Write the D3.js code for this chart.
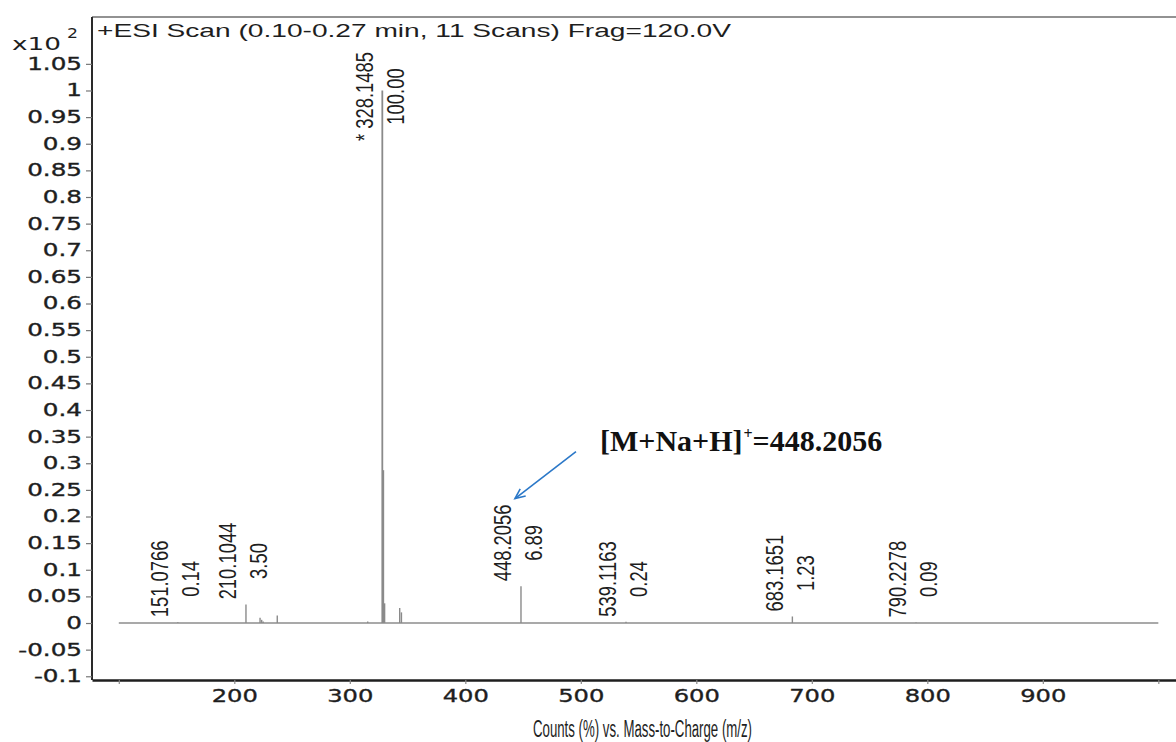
<!DOCTYPE html>
<html><head><meta charset="utf-8">
<script src="https://cdn.jsdelivr.net/npm/d3@7"></script>
<style>
html,body{margin:0;padding:0;background:#fff;}
svg{display:block;}
</style>
</head><body>
<svg id="chart" width="1176" height="742"></svg>
<script>
// Centroided peak list: m/z and relative abundance (%)
const peakMz  = [151.0766, 210.1044, 222.3, 223.7, 225.0, 237.2, 315.5, 328.1485, 329.15, 330.15, 343.2, 344.7, 448.2056, 539.1163, 683.1651, 790.2278];
const peakPct = [0.14, 3.50, 1.0, 0.6, 0.3, 1.4, 0.3, 100.00, 28.7, 3.7, 2.8, 2.0, 6.89, 0.24, 1.23, 0.09];

// Annotated peaks (m/z text, abundance text, marker prefix)
const labelMz     = ["151.0766", "210.1044", "328.1485", "448.2056", "539.1163", "683.1651", "790.2278"];
const labelPct    = ["0.14", "3.50", "100.00", "6.89", "0.24", "1.23", "0.09"];
const labelPrefix = ["", "", "* ", "", "", "", ""];

// Axis ticks
const xTicks      = [100, 200, 300, 400, 500, 600, 700, 800, 900, 1000];
const xTickLabels = ["", "200", "300", "400", "500", "600", "700", "800", "900", ""];
const yTicks      = [-0.1, -0.05, 0, 0.05, 0.1, 0.15, 0.2, 0.25, 0.3, 0.35, 0.4, 0.45, 0.5, 0.55, 0.6, 0.65, 0.7, 0.75, 0.8, 0.85, 0.9, 0.95, 1, 1.05];
const yTickLabels = ["-0.1", "-0.05", "0", "0.05", "0.1", "0.15", "0.2", "0.25", "0.3", "0.35", "0.4", "0.45", "0.5", "0.55", "0.6", "0.65", "0.7", "0.75", "0.8", "0.85", "0.9", "0.95", "1", "1.05"];

const titleText = "+ESI Scan (0.10-0.27 min, 11 Scans) Frag=120.0V";
const xAxisTitle = "Counts (%) vs. Mass-to-Charge (m/z)";
const ionMain = "[M+Na+H]", ionCharge = "+", ionValue = "=448.2056";
const ionMz = "448.2056";

const svg = d3.select("#chart");
const plotLeft = 92, plotRight = 1176, plotTop = 17, plotBottom = 680;

const x = d3.scaleLinear().domain([76.8, 1015.3]).range([plotLeft, plotRight]);
const y = d3.scaleLinear().domain([-0.107, 1.138]).range([plotBottom, plotTop]);

svg.append("rect").attr("width", 1176).attr("height", 742).attr("fill", "#fff");

// Frame top line
svg.append("line")
  .attr("x1", plotLeft).attr("x2", plotRight).attr("y1", plotTop).attr("y2", plotTop)
  .attr("stroke", "#6e6e6e").attr("stroke-width", 1.6);

// Y axis
const yAxis = svg.append("g")
  .attr("transform", `translate(${plotLeft},0)`)
  .call(d3.axisLeft(y).tickValues(yTicks).tickFormat((d, i) => yTickLabels[i]).tickSize(6).tickSizeOuter(0));
yAxis.select(".domain").attr("stroke", "#2a2a2a").attr("stroke-width", 2)
  .attr("d", `M0,${plotTop}V${plotBottom}`);
yAxis.selectAll(".tick line").attr("stroke", "#777").attr("stroke-width", 1.2);
yAxis.selectAll(".tick text")
  .attr("x", 0)
  .attr("transform", "translate(-10,0) scale(1.45,1)")
  .attr("font-family", "DejaVu Sans").attr("font-size", 17)
  .attr("fill", "#1e1e1e").attr("stroke", "#1e1e1e").attr("stroke-width", 0.35);

// X axis
const xAxis = svg.append("g")
  .attr("transform", `translate(0,${plotBottom})`)
  .call(d3.axisBottom(x).tickValues(xTicks).tickFormat((d, i) => xTickLabels[i]).tickSize(4).tickPadding(5).tickSizeOuter(0));
xAxis.select(".domain").attr("stroke", "#1e1e1e").attr("stroke-width", 2.4);
xAxis.selectAll(".tick line").attr("stroke", "#888").attr("stroke-width", 1.2);
xAxis.selectAll(".tick text")
  .attr("transform", "scale(1.31,1)")
  .attr("font-family", "DejaVu Sans").attr("font-size", 18.5)
  .attr("fill", "#1e1e1e").attr("stroke", "#1e1e1e").attr("stroke-width", 0.35);

// Scale multiplier label
svg.append("text").attr("x", 12).attr("y", 50)
  .attr("font-family", "DejaVu Sans").attr("font-size", 17).attr("fill", "#1e1e1e")
  .attr("textLength", 49).attr("lengthAdjust", "spacingAndGlyphs").text("x10");
svg.append("text").attr("x", 67).attr("y", 38)
  .attr("font-family", "DejaVu Sans").attr("font-size", 14).attr("fill", "#1e1e1e")
  .attr("textLength", 11).attr("lengthAdjust", "spacingAndGlyphs").text("2");

// Title
svg.append("text").attr("x", 97).attr("y", 37)
  .attr("font-family", "Liberation Sans").attr("font-size", 18).attr("fill", "#1e1e1e")
  .attr("textLength", 634).attr("lengthAdjust", "spacingAndGlyphs").text(titleText);

// X axis title
svg.append("text").attr("x", 533).attr("y", 737)
  .attr("font-family", "Liberation Sans").attr("font-size", 23).attr("fill", "#1e1e1e")
  .attr("textLength", 219).attr("lengthAdjust", "spacingAndGlyphs").text(xAxisTitle);

// Baseline of the spectrum
svg.append("line")
  .attr("x1", x(100)).attr("x2", x(1000)).attr("y1", y(0)).attr("y2", y(0))
  .attr("stroke", "#8c8c8c").attr("stroke-width", 1.3);

// Peak sticks
const peaks = peakMz.map((m, i) => ({ mz: m, v: peakPct[i] / 100 }));
svg.append("g").selectAll("line").data(peaks).join("line")
  .attr("x1", d => x(d.mz)).attr("x2", d => x(d.mz))
  .attr("y1", y(0)).attr("y2", d => y(d.v))
  .attr("stroke", "#8a8a8a")
  .attr("stroke-width", d => d.v > 0.5 ? 1.8 : 1.4);

// Rotated two-line peak labels
const squeeze = 0.8;
const labelG = svg.append("g");
const labelTops = {};
labelMz.forEach((mzText, i) => {
  const mz = +mzText;
  const v = +labelPct[i] / 100;
  const px = x(mz);
  const pTop = Math.min(y(v), y(0));
  const t1 = labelG.append("text")
    .attr("font-family", "Liberation Sans").attr("font-size", 23)
    .attr("fill", "#1e1e1e").attr("text-anchor", "middle").attr("dy", "0.36em")
    .text(labelPrefix[i] + mzText);
  const t2 = labelG.append("text")
    .attr("font-family", "Liberation Sans").attr("font-size", 23)
    .attr("fill", "#1e1e1e").attr("text-anchor", "middle").attr("dy", "0.36em")
    .text(labelPct[i]);
  const L1 = t1.node().getComputedTextLength() * squeeze;
  let cy = pTop - 5 - L1 / 2;
  if (cy - L1 / 2 < 52) cy = 52 + L1 / 2;
  t1.attr("transform", `translate(${px - 18},${cy}) rotate(-90) scale(${squeeze},1)`);
  t2.attr("transform", `translate(${px + 13},${cy}) rotate(-90) scale(${squeeze},1)`);
  labelTops[mzText] = { x: px, top: cy - L1 / 2 };
});

// Ion annotation with arrow to the labelled peak
const anchor = labelTops[ionMz];
const tipX = anchor.x - 6, tipY = anchor.top - 6;
const annX = anchor.x + 79, annY = anchor.top - 54;
const ann = svg.append("text").attr("x", annX).attr("y", annY)
  .attr("font-family", "Liberation Serif").attr("font-weight", "bold")
  .attr("font-size", 30).attr("fill", "#111");
ann.append("tspan").text(ionMain);
ann.append("tspan").attr("font-size", 16).attr("dy", -12).attr("dx", 1).text(ionCharge);
ann.append("tspan").attr("dy", 12).text(ionValue);

const sx = annX - 24, sy = annY + 1;
const ang = Math.atan2(tipY - sy, tipX - sx);
const ah = 11, spread = 0.42;
const arrow = svg.append("g").attr("stroke", "#2b78c8").attr("stroke-width", 1.6).attr("fill", "none");
arrow.append("line").attr("x1", sx).attr("y1", sy).attr("x2", tipX).attr("y2", tipY);
arrow.append("path")
  .attr("d", `M${tipX - ah * Math.cos(ang - spread)},${tipY - ah * Math.sin(ang - spread)}L${tipX},${tipY}L${tipX - ah * Math.cos(ang + spread)},${tipY - ah * Math.sin(ang + spread)}`);
</script>
</body></html>
